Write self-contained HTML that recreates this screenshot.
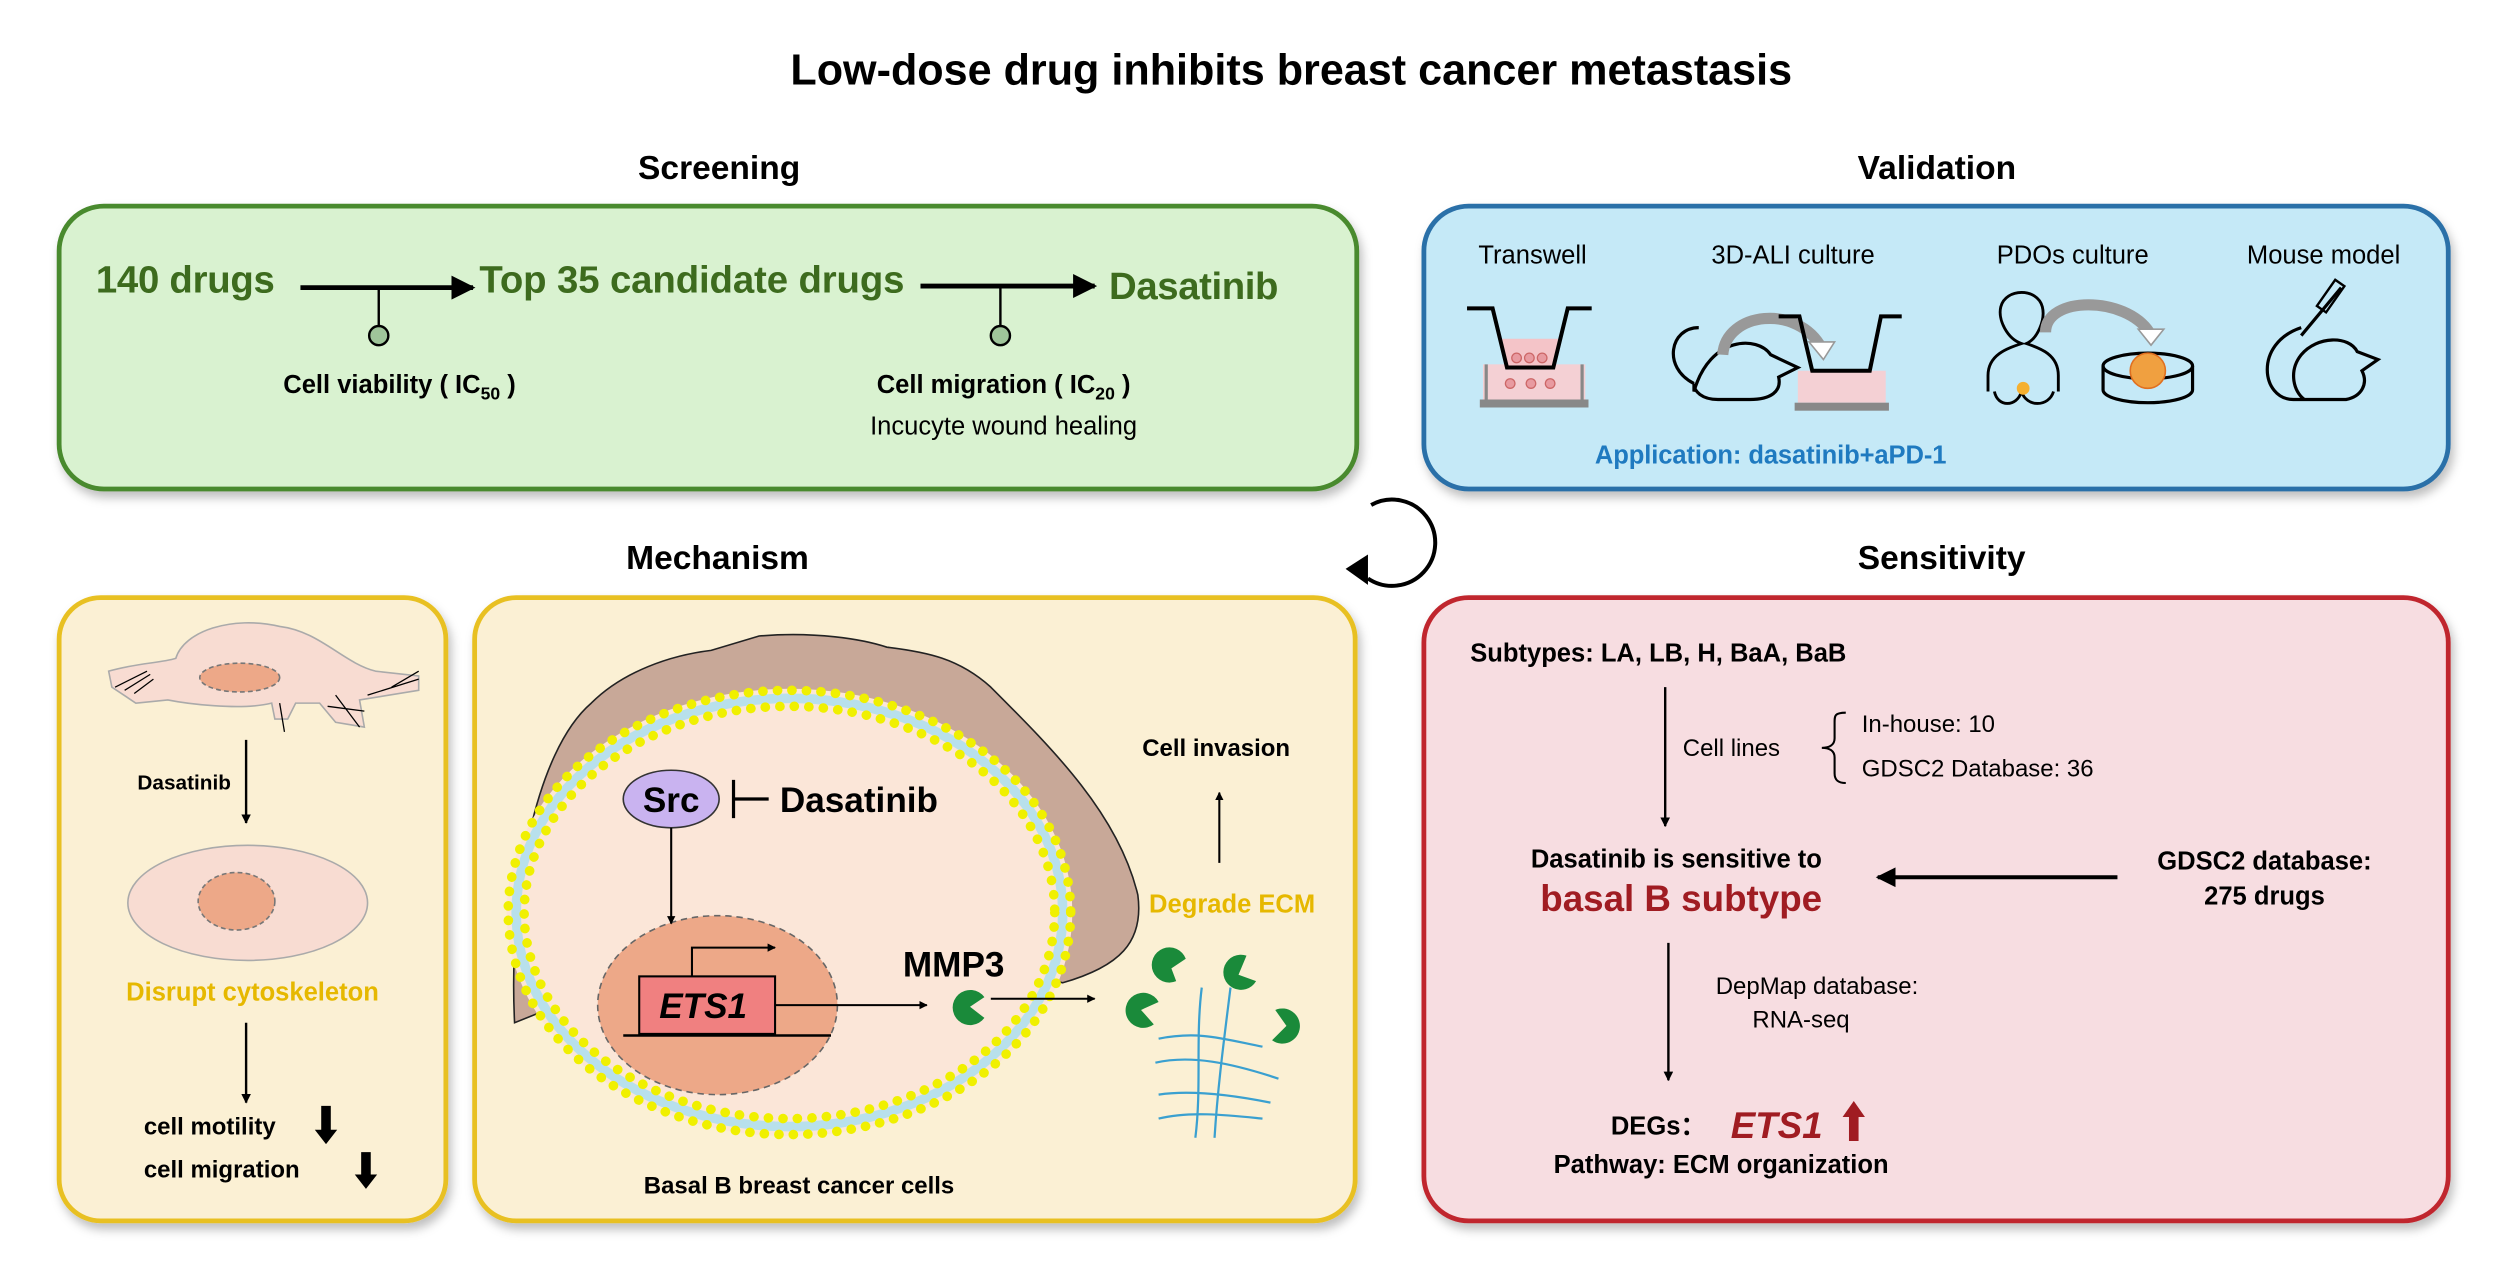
<!DOCTYPE html>
<html><head><meta charset="utf-8"><style>
html,body{margin:0;padding:0;background:#fff;}
svg{display:block;}
text{font-family:"Liberation Sans",Arial,sans-serif;}
</style></head><body>
<svg width="2493" height="1280" viewBox="0 0 1560 801" preserveAspectRatio="none" xmlns="http://www.w3.org/2000/svg">
<defs>
<marker id="ah" viewBox="0 0 10 10" refX="9" refY="5" markerWidth="5" markerHeight="5" orient="auto"><path d="M0,0L10,5L0,10z" fill="#000"/></marker>
<marker id="ah2" viewBox="0 0 10 10" refX="9" refY="5" markerWidth="4" markerHeight="4" orient="auto"><path d="M0,0L10,5L0,10z" fill="#000"/></marker>
<filter id="sh" x="-5%" y="-5%" width="110%" height="115%"><feDropShadow dx="2" dy="4" stdDeviation="3" flood-color="#000" flood-opacity="0.25"/></filter>
</defs>

<text x="808" y="53" font-size="27" font-weight="bold" text-anchor="middle">Low-dose drug inhibits breast cancer metastasis</text>

<!-- Screening -->
<text x="450" y="112" font-size="21" font-weight="bold" text-anchor="middle">Screening</text>
<rect x="37" y="129" width="812" height="177" rx="28" fill="#d9f2d0" stroke="#4a8a2e" stroke-width="3" filter="url(#sh)"/>
<g fill="#3d6b1e" font-weight="bold" font-size="24">
<text x="60" y="183" textLength="112">140 drugs</text>
<text x="300" y="183" textLength="266">Top 35 candidate drugs</text>
<text x="694" y="187" textLength="106">Dasatinib</text>
</g>
<line x1="188" y1="180" x2="296" y2="180" stroke="#000" stroke-width="3" marker-end="url(#ah)"/>
<line x1="237" y1="180" x2="237" y2="204" stroke="#000" stroke-width="1.5"/>
<circle cx="237" cy="210" r="6" fill="#9fc59a" stroke="#000" stroke-width="1.5"/>
<line x1="576" y1="179" x2="685" y2="179" stroke="#000" stroke-width="3" marker-end="url(#ah)"/>
<line x1="626" y1="179" x2="626" y2="204" stroke="#000" stroke-width="1.5"/>
<circle cx="626" cy="210" r="6" fill="#9fc59a" stroke="#000" stroke-width="1.5"/>
<text x="250" y="246" font-size="16" font-weight="bold" text-anchor="middle">Cell viability ( IC<tspan font-size="11" dy="4">50</tspan><tspan dy="-4"> )</tspan></text>
<text x="628" y="246" font-size="16" font-weight="bold" text-anchor="middle">Cell migration ( IC<tspan font-size="11" dy="4">20</tspan><tspan dy="-4"> )</tspan></text>
<text x="628" y="272" font-size="16" text-anchor="middle">Incucyte wound healing</text>

<!-- Validation -->
<text x="1212" y="112" font-size="21" font-weight="bold" text-anchor="middle">Validation</text>
<rect x="891" y="129" width="641" height="177" rx="28" fill="#c5e9f7" stroke="#2a6fa8" stroke-width="3" filter="url(#sh)"/>
<g font-size="16" text-anchor="middle">
<text x="959" y="165">Transwell</text>
<text x="1122" y="165">3D-ALI culture</text>
<text x="1297" y="165">PDOs culture</text>
<text x="1454" y="165">Mouse model</text>
</g>
<rect x="928" y="228" width="64" height="22" fill="#f4d0d4"/>
<rect x="926" y="250" width="68" height="5" fill="#888"/>
<path d="M930,228 L930,250 M990,228 L990,250" stroke="#888" stroke-width="2"/>
<path d="M940,212 L975,212 L972,230 L943,230z" fill="#f4c4c8"/>
<path d="M918,193 L934,193 L943,230 L972,230 L981,193 L996,193" fill="none" stroke="#000" stroke-width="2.5"/>
<g fill="#e89aa0" stroke="#c66" stroke-width="0.8"><circle cx="949" cy="224" r="3"/><circle cx="957" cy="224" r="3"/><circle cx="965" cy="224" r="3"/><circle cx="945" cy="240" r="3"/><circle cx="958" cy="240" r="3"/><circle cx="970" cy="240" r="3"/></g>
<path d="M1060,240 C1040,230 1045,205 1063,205 M1060,245 C1070,210 1100,210 1108,222 L1125,230 L1113,236 C1115,245 1108,250 1095,250 L1075,250 C1065,250 1060,245 1060,240z" fill="none" stroke="#000" stroke-width="2"/>
<path d="M1078,222 C1080,195 1125,190 1140,218" fill="none" stroke="#999" stroke-width="7"/>
<path d="M1132,214 L1148,214 L1141,225z" fill="#fff" stroke="#999"/>
<rect x="1125" y="232" width="55" height="20" fill="#f4d0d4"/>
<rect x="1123" y="252" width="59" height="5" fill="#888"/>
<path d="M1113,198 L1126,198 L1134,232 L1170,232 L1177,198 L1190,198" fill="none" stroke="#000" stroke-width="2.5"/>
<path d="M1244,245 L1244,235 C1244,222 1256,218 1265,215 C1256,212 1250,200 1252,192 C1255,180 1275,180 1278,192 C1280,200 1275,212 1268,215 C1277,218 1288,222 1288,235 L1288,245 M1248,245 C1250,255 1262,255 1265,245 C1268,255 1282,255 1285,245" fill="none" stroke="#000" stroke-width="1.8"/>
<circle cx="1266" cy="243" r="4" fill="#f5b030"/>
<path d="M1280,208 C1280,185 1330,185 1345,208" fill="none" stroke="#999" stroke-width="7"/>
<path d="M1338,206 L1354,206 L1346,216z" fill="#fff" stroke="#999"/>
<ellipse cx="1344" cy="229" rx="28" ry="8" fill="none" stroke="#000" stroke-width="2"/>
<path d="M1316,229 L1316,244 A28,8 0 0 0 1372,244 L1372,229" fill="none" stroke="#000" stroke-width="2"/>
<circle cx="1344" cy="232" r="11" fill="#f0a040" stroke="#e07020"/>
<path d="M1440,205 C1410,215 1415,250 1435,250 L1468,250 C1478,248 1482,240 1478,232 L1488,225 L1475,220 C1470,210 1450,210 1440,222 C1432,232 1435,245 1442,250" fill="none" stroke="#000" stroke-width="2"/>
<path d="M1440,210 L1465,180" stroke="#000" stroke-width="2"/>
<rect x="1455" y="175" width="7" height="20" transform="rotate(35 1458 185)" fill="none" stroke="#000" stroke-width="1.5"/>
<text x="998" y="290" font-size="16" font-weight="bold" fill="#1f7ac0" textLength="220">Application: dasatinib+aPD-1</text>

<!-- cycle arrow -->
<path d="M858,316 A27,27 0 1 1 856,362" fill="none" stroke="#000" stroke-width="2.5"/>
<path d="M842,356 L856,347 L856,366z" fill="#000"/>

<!-- Mechanism -->
<text x="449" y="356" font-size="21" font-weight="bold" text-anchor="middle">Mechanism</text>
<rect x="37" y="374" width="242" height="390" rx="26" fill="#fbf0d4" stroke="#e8c020" stroke-width="3" filter="url(#sh)"/>
<path d="M70,430 L68,420 C85,415 100,415 110,412 C115,395 145,385 175,392 C200,395 215,415 235,420 L262,423 L262,432 L225,438 L228,455 L210,452 L200,440 L185,440 L180,450 L172,450 L170,440 C150,445 115,440 105,438 L85,440z" fill="#f8dcd2" stroke="#aaa" stroke-width="1"/>
<ellipse cx="150" cy="424" rx="25" ry="9" fill="#eda888" stroke="#777" stroke-dasharray="3,2"/>
<path d="M72,430 L92,420 M78,432 L94,422 M84,434 L96,425 M210,435 L225,455 M205,442 L228,445 M245,430 L262,420 M230,435 L262,425 M175,440 L178,458" stroke="#000" stroke-width="0.8"/>
<text x="86" y="494" font-size="13" font-weight="bold">Dasatinib</text>
<line x1="154" y1="463" x2="154" y2="515" stroke="#000" stroke-width="1.5" marker-end="url(#ah2)"/>
<ellipse cx="155" cy="565" rx="75" ry="36" fill="#f8dcd2" stroke="#aaa"/>
<ellipse cx="148" cy="564" rx="24" ry="18" fill="#eda888" stroke="#777" stroke-dasharray="3,2"/>
<text x="158" y="626" font-size="16" font-weight="bold" fill="#e6b800" text-anchor="middle">Disrupt cytoskeleton</text>
<line x1="154" y1="640" x2="154" y2="690" stroke="#000" stroke-width="1.5" marker-end="url(#ah2)"/>
<text x="90" y="710" font-size="15" font-weight="bold">cell motility</text>
<text x="90" y="737" font-size="15" font-weight="bold">cell migration</text>
<path d="M201,692 L207,692 L207,707 L211,707 L204,716 L197,707 L201,707z" fill="#000"/>
<path d="M226,721 L232,721 L232,735 L236,735 L229,744 L222,735 L226,735z" fill="#000"/>

<rect x="297" y="374" width="551" height="390" rx="26" fill="#fbf0d4" stroke="#e8c020" stroke-width="3" filter="url(#sh)"/>
<path d="M322,640 C318,560 335,470 370,440 C390,420 420,410 445,407 L475,398 C510,395 540,400 555,405 C580,408 600,412 620,430 C660,470 700,510 712,560 C716,590 700,605 665,615 L494,571z" fill="#c8a898" stroke="#222" stroke-width="1"/>
<ellipse cx="494" cy="571" rx="177" ry="140" fill="#fbe6d8"/>
<ellipse cx="494" cy="571" rx="171" ry="134" fill="none" stroke="#b8e0ec" stroke-width="6"/>
<ellipse cx="494" cy="571" rx="176" ry="139" fill="none" stroke="#f0f000" stroke-width="6" stroke-dasharray="0.1,9" stroke-linecap="round"/>
<ellipse cx="494" cy="571" rx="166" ry="129" fill="none" stroke="#f0f000" stroke-width="6" stroke-dasharray="0.1,9" stroke-linecap="round"/>
<ellipse cx="449" cy="629" rx="75" ry="56" fill="#eda888" stroke="#666" stroke-dasharray="4,3"/>
<ellipse cx="420" cy="500" rx="30" ry="18" fill="#c9b3f0" stroke="#333"/>
<text x="420" y="508" font-size="22" font-weight="bold" text-anchor="middle">Src</text>
<path d="M459,488 L459,512 M459,500 L481,500" stroke="#000" stroke-width="2"/>
<text x="488" y="508" font-size="22" font-weight="bold">Dasatinib</text>
<line x1="420" y1="518" x2="420" y2="578" stroke="#000" stroke-width="1.3" marker-end="url(#ah2)"/>
<rect x="400" y="611" width="85" height="36" fill="#f08080" stroke="#000" stroke-width="1.3"/>
<line x1="390" y1="648" x2="520" y2="648" stroke="#000" stroke-width="1.5"/>
<text x="440" y="637" font-size="22" font-weight="bold" font-style="italic" text-anchor="middle">ETS1</text>
<path d="M433,611 L433,593 L485,593" fill="none" stroke="#000" stroke-width="1.3" marker-end="url(#ah2)"/>
<line x1="485" y1="629" x2="580" y2="629" stroke="#000" stroke-width="1.3" marker-end="url(#ah2)"/>
<text x="565" y="611" font-size="22" font-weight="bold">MMP3</text>
<path d="M607,630 L616,624 A11,11 0 1 0 616,637z" fill="#1a8a3a"/>
<line x1="620" y1="625" x2="685" y2="625" stroke="#000" stroke-width="1.3" marker-end="url(#ah2)"/>
<g fill="#1a8a3a">
<path d="M733,606 L742,600 A11,11 0 1 0 736,614z"/>
<path d="M775,610 L780,598 A11,11 0 1 0 786,614z"/>
<path d="M714,632 L725,627 A11,11 0 1 0 722,641z"/>
<path d="M805,642 L798,632 A11,11 0 1 1 796,651z"/>
</g>
<g fill="none" stroke="#3aa0d0" stroke-width="1.4">
<path d="M725,650 C750,645 765,650 790,655"/>
<path d="M723,665 C745,660 770,665 800,675"/>
<path d="M725,685 C745,682 770,685 795,690"/>
<path d="M725,700 C745,695 770,698 790,700"/>
<path d="M752,618 C748,650 752,680 748,712"/>
<path d="M770,618 C766,650 762,680 760,712"/>
</g>
<text x="761" y="473" font-size="15" font-weight="bold" text-anchor="middle">Cell invasion</text>
<line x1="763" y1="540" x2="763" y2="496" stroke="#000" stroke-width="1.3" marker-end="url(#ah2)"/>
<text x="771" y="571" font-size="16" font-weight="bold" fill="#e6b800" text-anchor="middle">Degrade ECM</text>
<text x="500" y="747" font-size="15" font-weight="bold" text-anchor="middle">Basal B breast cancer cells</text>

<!-- Sensitivity -->
<text x="1215" y="356" font-size="21" font-weight="bold" text-anchor="middle">Sensitivity</text>
<rect x="891" y="374" width="641" height="390" rx="28" fill="#f7dde1" stroke="#c0282f" stroke-width="3" filter="url(#sh)"/>
<text x="920" y="414" font-size="16" font-weight="bold">Subtypes: LA, LB, H, BaA, BaB</text>
<line x1="1042" y1="430" x2="1042" y2="517" stroke="#000" stroke-width="1.5" marker-end="url(#ah2)"/>
<text x="1053" y="473" font-size="15">Cell lines</text>
<path d="M1155,446 C1148,446 1148,448 1148,452 L1148,462 C1148,466 1145,468 1140,468 C1145,468 1148,470 1148,474 L1148,484 C1148,488 1150,490 1155,490" fill="none" stroke="#000" stroke-width="1.3"/>
<text x="1165" y="458" font-size="15">In-house: 10</text>
<text x="1165" y="486" font-size="15">GDSC2 Database: 36</text>
<text x="1049" y="543" font-size="16" font-weight="bold" text-anchor="middle">Dasatinib is sensitive to</text>
<text x="1052" y="570" font-size="23" font-weight="bold" fill="#a01c22" text-anchor="middle">basal B subtype</text>
<line x1="1325" y1="549" x2="1175" y2="549" stroke="#000" stroke-width="2.5" marker-end="url(#ah)"/>
<text x="1417" y="544" font-size="16" font-weight="bold" text-anchor="middle">GDSC2 database:</text>
<text x="1417" y="566" font-size="16" font-weight="bold" text-anchor="middle">275 drugs</text>
<line x1="1044" y1="590" x2="1044" y2="676" stroke="#000" stroke-width="1.5" marker-end="url(#ah2)"/>
<text x="1137" y="622" font-size="15" text-anchor="middle">DepMap database:</text>
<text x="1127" y="643" font-size="15" text-anchor="middle">RNA-seq</text>
<text x="1008" y="710" font-size="16" font-weight="bold">DEGs：</text>
<text x="1083" y="712" font-size="23" font-weight="bold" font-style="italic" fill="#a01c22">ETS1</text>
<path d="M1157,714 L1163,714 L1163,699 L1167,699 L1160,689 L1153,699 L1157,699z" fill="#a01c22"/>
<text x="1077" y="734" font-size="16" font-weight="bold" text-anchor="middle">Pathway: ECM organization</text>
</svg>
</body></html>
